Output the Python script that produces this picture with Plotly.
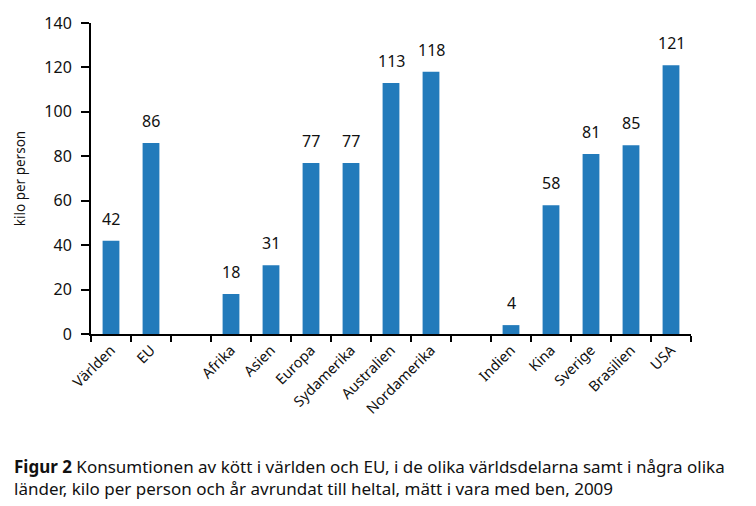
import plotly.graph_objects as go

categories = ["Världen", "EU", " ", "Afrika", "Asien", "Europa", "Sydamerika",
              "Australien", "Nordamerika", "  ", "Indien", "Kina", "Sverige",
              "Brasilien", "USA"]
values = [42, 86, None, 18, 31, 77, 77, 113, 118, None, 4, 58, 81, 85, 121]
y_ticks = [0, 20, 40, 60, 80, 100, 120, 140]
y_title = "kilo per person"
caption = ("<b>Figur 2</b> Konsumtionen av kött i världen och EU, i de olika världsdelarna samt i några olika<br>"
           "länder, kilo per person och år avrundat till heltal, mätt i vara med ben, 2009")

FONT = "Noto Sans"
BAR = "#237bbb"

fig = go.Figure()
fig.add_trace(go.Bar(x=categories, y=values, marker=dict(color=BAR, line=dict(width=0)),
                     width=0.42, hoverinfo="skip"))

for c, v in zip(categories, values):
    if v is None:
        continue
    fig.add_annotation(x=c, y=v, text=str(v), showarrow=False, yanchor="bottom",
                       yshift=9, font=dict(family=FONT, size=16, color="#111"))

fig.add_annotation(xref="paper", yref="paper", x=-0.132, y=-0.383, xanchor="left",
                   yanchor="top", align="left", showarrow=False, text=caption,
                   font=dict(family=FONT, size=17, color="#111"))

fig.update_layout(
    width=756, height=506, margin=dict(l=91, r=65, t=23, b=172),
    paper_bgcolor="white", plot_bgcolor="white", showlegend=False,
    font=dict(family=FONT, size=14, color="#111"),
    bargap=0.58,
)
fig.update_xaxes(type="category", categoryorder="array", categoryarray=categories,
                 tickson="boundaries", ticks="outside", ticklen=6, tickwidth=2,
                 tickcolor="black", showline=True, linecolor="black", linewidth=2,
                 tickangle=-45, showgrid=False, zeroline=False,
                 tickfont=dict(family=FONT, size=14.5, color="#111"))
fig.update_yaxes(range=[0, 140], tickvals=y_ticks, ticks="outside", ticklen=8,
                 tickwidth=2, tickcolor="black", showline=True, linecolor="black",
                 linewidth=2, showgrid=False, zeroline=False,
                 title=dict(text=y_title, font=dict(family=FONT, size=13.5, color="#111"), standoff=16),
                 ticklabelstandoff=6,
                 tickfont=dict(family=FONT, size=16, color="#111"))

fig.write_html("out.html")
